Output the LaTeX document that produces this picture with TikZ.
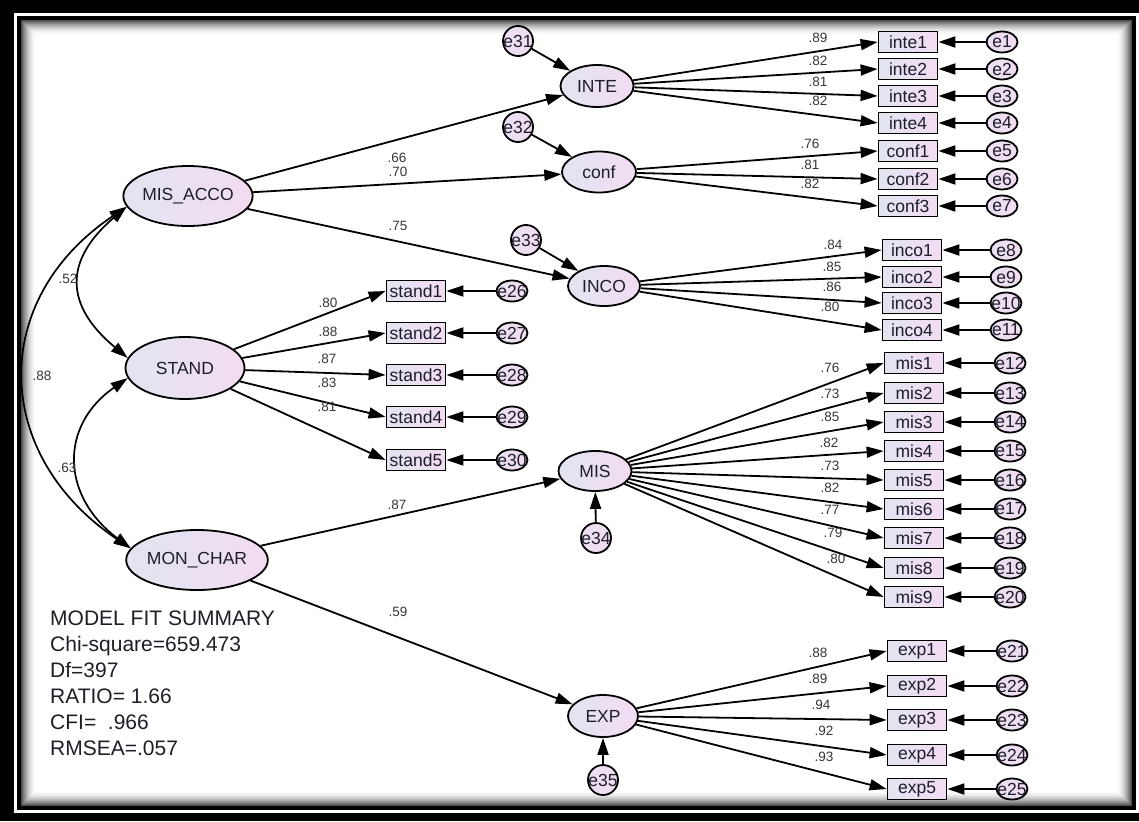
\documentclass[tikz,border=0pt]{standalone}
\usepackage{fontspec}
\setmainfont{Liberation Sans}
\usetikzlibrary{shapes.geometric,arrows.meta}
\definecolor{shL}{RGB}{226,228,240}
\definecolor{shR}{RGB}{242,220,242}
\definecolor{txt}{RGB}{30,30,40}
\definecolor{lab}{RGB}{55,55,55}
\newcommand\zw[1]{\makebox[0pt]{#1}}
\tikzset{
  latent/.style={ellipse, draw=black, line width=1.8pt, left color=shL, right color=shR,
    inner sep=0pt, text=txt, font=\fontsize{17.5}{20}\selectfont},
  ind/.style={rectangle, draw=black, line width=1.8pt, left color=shL, right color=shR,
    minimum width=59pt, minimum height=21pt, inner sep=0pt, text=txt, font=\fontsize{17.5}{20}\selectfont},
  err/.style={ellipse, draw=black, line width=1.8pt, left color=shL!50!shR, right color=shR,
    minimum width=31pt, minimum height=21pt, inner sep=0pt, text=txt, font=\fontsize{17.5}{20}\selectfont},
  serr/.style={err, minimum width=30pt, minimum height=30pt},
  lbl/.style={text=lab, font=\fontsize{13.5}{15}\selectfont, inner sep=0pt},
  arr/.style={line width=1.8pt, -{Triangle[length=17pt,width=11pt]}},
  cov/.style={line width=1.7pt, {Triangle[length=17pt,width=11pt]}-{Triangle[length=17pt,width=11pt]}},
  fit/.style={anchor=base west, inner sep=0pt, text=txt, font=\fontsize{21}{24}\selectfont},
}
\begin{document}
\begin{tikzpicture}[x=1pt,y=-1pt]
\useasboundingbox (0,0) rectangle (1139,821);
% double frame with inner shadow
\fill[black] (0,0) rectangle (1139,821);
\fill[white] (14,13) rectangle (1139,813);
\fill[black] (17,16) rectangle (1136,810);
\fill[white] (21,20) rectangle (1132,806);
\foreach \i in {0,...,15}{
  \pgfmathsetmacro\k{int(70*(1-\i/16)^2)}
  \draw[black!\k, line width=1.05pt] (21.5+\i,20.5+\i) rectangle (1131.5-\i,805.5-\i);
}

% latent variables
\node[latent, minimum width=118pt, minimum height=60pt] (MISACCO) at (188,196) {MIS\_ACCO};
\node[latent, minimum width=119pt, minimum height=62pt] (STAND) at (185,368) {STAND};
\node[latent, minimum width=120pt, minimum height=60pt] (MONCHAR) at (197,560) {MON\_CHAR};
\node[latent, minimum width=73pt, minimum height=42pt] (INTE) at (597,86) {INTE};
\node[latent, minimum width=74pt, minimum height=41pt] (CONF) at (599,172) {conf};
\node[latent, minimum width=72pt, minimum height=40pt] (INCO) at (604,286) {INCO};
\node[latent, minimum width=73pt, minimum height=40pt] (MIS) at (595,471) {MIS};
\node[latent, minimum width=70pt, minimum height=42pt] (EXP) at (603,716) {EXP};

% disturbances of the first-order factors
\node[serr] (e31) at (518,41) {\zw{e31}};
\node[serr] (e32) at (518,127) {\zw{e32}};
\node[serr] (e33) at (526,240) {\zw{e33}};
\node[serr] (e34) at (596,538) {\zw{e34}};
\node[serr] (e35) at (603,780) {\zw{e35}};
\draw[arr] (e31) -- (INTE);
\draw[arr] (e32) -- (CONF);
\draw[arr] (e33) -- (INCO);
\draw[arr] (e34) -- (MIS);
\draw[arr] (e35) -- (EXP);

% structural paths
\draw[arr] (MISACCO) -- (INTE);
\draw[arr] (MISACCO) -- (CONF);
\draw[arr] (MISACCO) -- (INCO);
\draw[arr] (MONCHAR) -- (MIS);
\draw[arr] (MONCHAR) -- (EXP);
\node[lbl] (p1) at (397,158) {.66};
\node[lbl] (p2) at (398,172) {.70};
\node[lbl] (p3) at (398,226) {.75};
\node[lbl] (p4) at (397,505) {.87};
\node[lbl] (p5) at (398,612) {.59};

% correlations between the second-order factors
\draw[cov] (MISACCO.190) .. controls (64,260) and (64,305) .. (STAND.170);
\draw[cov] (STAND.190) .. controls (60,425) and (60,495) .. (MONCHAR.170);
\draw[cov] (MISACCO.190) .. controls (-12,300) and (-8,455) .. (MONCHAR.170);
\node[lbl] (c1) at (68,279) {.52};
\node[lbl] (c2) at (42,376) {.88};
\node[lbl] (c3) at (67,468) {.63};

% measurement model: INTE
\foreach \n/\e/\y/\l/\lx/\ly in {1/1/42/.89/818/38, 2/2/69/.82/818/61, 3/3/96/.81/818/82, 4/4/123/.82/818/101}{
  \node[ind] (inte\n) at (908,\y) {inte\n};
  \node[err] (e\e) at (1002,\y) {\zw{e\e}};
  \draw[arr] (INTE) -- (inte\n.west);
  \draw[arr] (e\e) -- (inte\n.east);
  \node[lbl] (linte\n) at (\lx,\ly) {\l};
}
% conf
\foreach \n/\e/\y/\l/\lx/\ly in {1/5/151/.76/810/144, 2/6/179/.81/810/165, 3/7/206/.82/810/184}{
  \node[ind] (conf\n) at (908,\y) {conf\n};
  \node[err] (e\e) at (1002,\y) {\zw{e\e}};
  \draw[arr] (CONF) -- (conf\n.west);
  \draw[arr] (e\e) -- (conf\n.east);
  \node[lbl] (lconf\n) at (\lx,\ly) {\l};
}
% INCO
\foreach \n/\e/\y/\l/\lx/\ly in {1/8/250/.84/833/245, 2/9/277/.85/832/267, 3/10/303/.86/832/287, 4/11/330/.80/830/307}{
  \node[ind] (inco\n) at (912,\y) {inco\n};
  \node[err] (e\e) at (1006,\y) {\zw{e\e}};
  \draw[arr] (INCO) -- (inco\n.west);
  \draw[arr] (e\e) -- (inco\n.east);
  \node[lbl] (linco\n) at (\lx,\ly) {\l};
}
% MIS
\foreach \n/\e/\y/\l/\lx/\ly in {1/12/363/.76/830/368, 2/13/393/.73/830/394, 3/14/422/.85/830/417,
    4/15/451/.82/829/443, 5/16/480/.73/830/466, 6/17/509/.82/830/488, 7/18/538/.77/830/510,
    8/19/568/.79/833/533, 9/20/597/.80/836/559}{
  \node[ind] (mis\n) at (914,\y) {mis\n};
  \node[err] (e\e) at (1010,\y) {\zw{e\e}};
  \draw[arr] (MIS) -- (mis\n.west);
  \draw[arr] (e\e) -- (mis\n.east);
  \node[lbl] (lmis\n) at (\lx,\ly) {\l};
}
% STAND
\foreach \n/\e/\y/\l/\lx/\ly in {1/26/291/.80/328/303, 2/27/333/.88/328/332, 3/28/375/.87/327/359,
    4/29/417/.83/327/383, 5/30/460/.81/327/407}{
  \node[ind] (stand\n) at (416,\y) {stand\n};
  \node[err] (e\e) at (512,\y) {\zw{e\e}};
  \draw[arr] (STAND) -- (stand\n.west);
  \draw[arr] (e\e) -- (stand\n.east);
  \node[lbl] (lstand\n) at (\lx,\ly) {\l};
}
% EXP
\foreach \n/\e/\y/\l/\lx/\ly in {1/21/651/.88/818/653, 2/22/686/.89/818/679, 3/23/720/.94/821/705,
    4/24/755/.92/824/731, 5/25/789/.93/824/757}{
  \node[ind] (exp\n) at (917,\y) {exp\n};
  \node[err] (e\e) at (1012,\y) {\zw{e\e}};
  \draw[arr] (EXP) -- (exp\n.west);
  \draw[arr] (e\e) -- (exp\n.east);
  \node[lbl] (lexp\n) at (\lx,\ly) {\l};
}

% fit indices
\node[fit] (f1) at (50,625) {MODEL FIT SUMMARY};
\node[fit] (f2) at (50,651) {Chi-square=659.473};
\node[fit] (f3) at (50,677) {Df=397};
\node[fit] (f4) at (50,703) {RATIO= 1.66};
\node[fit] (f5) at (50,729) {CFI=\ \ .966};
\node[fit] (f6) at (50,755) {RMSEA=.057};
\end{tikzpicture}
\end{document}
